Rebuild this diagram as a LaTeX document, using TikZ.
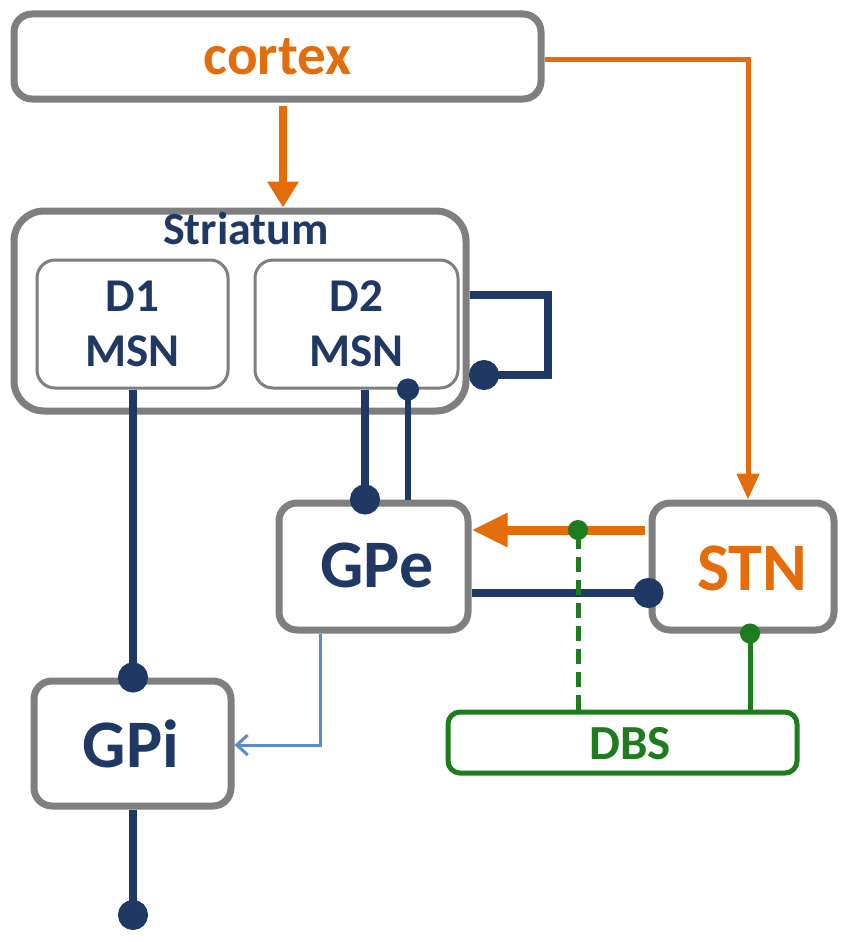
\documentclass[tikz,border=0pt]{standalone}
\usepackage{fontspec}
\setmainfont{Carlito}
\usetikzlibrary{arrows.meta,calc}
\definecolor{corange}{HTML}{E46C0A}
\definecolor{cnavy}{HTML}{1F3864}
\definecolor{cgray}{HTML}{7F7F7F}
\definecolor{cgreen}{HTML}{1E7B1E}
\definecolor{cblue}{HTML}{5B8BC9}
\begin{document}
\begin{tikzpicture}[x=1pt,y=-1pt,
  bigbox/.style={draw=cgray,line width=7pt,fill=white,rounded corners=18pt,inner sep=0pt,align=center},
  smallbox/.style={draw=cgray,line width=3pt,fill=white,rounded corners=18pt,inner sep=0pt,align=center,
    text=cnavy,font=\bfseries\fontsize{47}{55}\selectfont},
  dbsbox/.style={draw=cgreen,line width=5pt,fill=white,rounded corners=12pt,inner sep=0pt,
    text=cgreen,font=\bfseries\fontsize{49}{55}\selectfont},
  biglabel/.style={font=\bfseries\fontsize{68}{75}\selectfont},
  oarrowA/.style={draw=corange,line width=8pt,shorten <=3.5pt,-{Triangle[width=30pt,length=26pt]}},
  oarrowB/.style={draw=corange,line width=5pt,-{Triangle[width=22pt,length=26pt]}},
  oarrowC/.style={draw=corange,line width=9pt,shorten <=3.5pt,-{Triangle[width=32pt,length=36pt]}},
  inhB/.style={draw=cnavy,line width=7.5pt,shorten >=-15pt,-{Circle[length=30pt]}},
  inhS/.style={draw=cnavy,line width=6pt,shorten >=-11pt,-{Circle[length=22pt]}},
  gdot/.style={draw=cgreen,line width=5pt,shorten >=-10pt,-{Circle[length=20pt]}},
  excB/.style={draw=cblue,line width=3pt,-{Straight Barb[width=20pt,length=11pt,line width=3pt]}},
]
\useasboundingbox (0,0) rectangle (842,942);
% boxes
\node[bigbox,minimum width=527pt,minimum height=85pt,text=corange,font=\bfseries\fontsize{57}{62}\selectfont]
  (cortex) at (277.5,56.5) {cortex};
\node[bigbox,rounded corners=30pt,minimum width=452pt,minimum height=200pt] (str) at (240,311) {};
\node[text=cnavy,font=\bfseries\fontsize{46}{50}\selectfont] (strlabel) at (246,229) {Striatum};
\node[smallbox,minimum width=191pt,minimum height=128pt] (d1) at (132.5,324) {D1\\MSN};
\node[smallbox,minimum width=203pt,minimum height=128pt] (d2) at (356.5,324) {D2\\MSN};
\node[bigbox,minimum width=189pt,minimum height=127pt] (gpe) at (373.5,566.5) {};
\node[biglabel,text=cnavy] (gpelabel) at (377,565) {GPe};
\node[bigbox,minimum width=182pt,minimum height=127pt] (stn) at (743,566.5) {};
\node[biglabel,text=corange] (stnlabel) at (752,568) {STN};
\node[bigbox,minimum width=197pt,minimum height=125pt] (gpi) at (132.5,743.5) {};
\node[biglabel,text=cnavy] (gpilabel) at (131,744) {GPi};
\node[dbsbox,minimum width=349pt,minimum height=61pt] (dbs) at (622.5,742.5) {};
\node[text=cgreen,font=\bfseries\fontsize{49}{55}\selectfont] (dbslabel) at (630,744) {DBS};
% helper coordinates
\coordinate (xa) at (283,0);
\coordinate (yo) at (0,530);
\coordinate (yn) at (0,593);
\coordinate (g1) at (578,530);
\coordinate (xs) at (750,0);
\coordinate (x1) at (133,0);
\coordinate (x2) at (365,0);
\coordinate (x3) at (408,0);
\coordinate (l1) at (548,295);
\coordinate (l2) at (548,375);
\coordinate (l3) at (484,375);
\coordinate (b1) at (320,745);
\coordinate (out) at (133,915);
% connectors
\draw[oarrowA] (cortex.south -| xa) -- (str.north -| xa);
\draw[oarrowB] ([yshift=-3.5pt]cortex.east) -| ([xshift=5pt]stn.north);
\draw[oarrowC] (stn.west |- yo) -- (gpe.east |- yo);
\draw[inhB] (gpe.east |- yn) -- (stn.west |- yn);
\draw[gdot,dash pattern=on 15pt off 8pt] (dbs.north -| g1) -- (g1);
\draw[gdot] (dbs.north -| xs) -- (stn.south -| xs);
\draw[inhB] (d1.south -| x1) -- (gpi.north -| x1);
\draw[inhB] (d2.south -| x2) -- (gpe.north -| x2);
\draw[inhS] (gpe.north -| x3) -- (d2.south -| x3);
\draw[inhB] (str.east |- l1) -- (l1) -- (l2) -- (l3);
\draw[excB] (gpe.south -| b1) -- (b1) -- (gpi.east |- b1);
\draw[inhB] (gpi.south -| out) -- (out);
\end{tikzpicture}
\end{document}
